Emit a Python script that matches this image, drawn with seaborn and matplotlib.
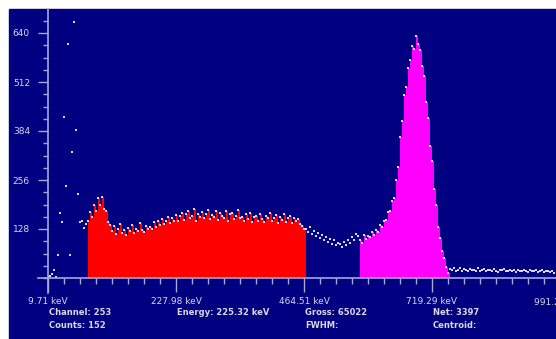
import numpy as np
import pandas as pd
import seaborn as sns
import matplotlib.pyplot as plt
from matplotlib.patches import Rectangle

# spectrum counts, one value every 4 channels
counts_low = [3, 5, 10, 20, 3, 60, 170, 145, 420, 240,
              610, 60, 330, 668, 386, 220, 145, 150, 130, 140]
counts_roi1 = [150, 172, 160, 190, 175, 208, 192,
               212, 180, 176, 145, 138,
               122, 135, 115, 128, 140, 118, 126, 112, 131, 124,
               138, 117, 129, 122, 143, 126, 119, 137, 128, 133,
               128, 146, 133, 150, 138, 155, 141, 149, 160, 143,
               158, 150, 165, 148, 161,
               170, 152, 166, 175, 158, 163, 180, 150, 168, 159,
               173, 156, 167, 178, 154, 165, 160, 176, 151, 169,
               162, 158, 174, 149, 166, 171, 155, 163, 177, 157,
               160, 148, 166, 155, 171, 146, 159, 163, 150, 168,
               153, 145, 162, 157, 170, 149, 158, 165, 144, 160,
               152, 167, 147, 156, 162, 143, 158, 150, 154, 141,
               135, 128]
counts_valley = [128, 120, 132, 115, 124, 110, 118, 105, 112, 100,
                 108, 95, 103, 90, 98, 85, 92, 88, 80, 95,
                 86, 100, 92, 108, 98, 115, 110]
counts_roi2 = [100, 92, 112, 101, 110, 108, 121, 112, 125, 120,
               138, 133, 150, 152, 172, 176, 200, 208, 255, 290,
               368, 410, 478, 498, 548, 570, 605, 598, 632, 612,
               596, 555, 528, 460, 418, 345, 305, 232, 190, 132,
               104, 70, 52, 28, 14]
counts_tail = [24, 20, 26, 18, 22, 25, 19, 23, 21, 17,
               24, 20, 22, 18, 25, 19, 21, 23, 17, 20,
               22, 18, 24, 19, 16, 21, 20, 23, 17, 19,
               22, 18, 20, 16, 21, 19, 17, 22, 18, 15,
               20, 17, 19, 21, 16, 18, 20, 15, 17, 19,
               16, 18, 14]

major_channels = [0, 256, 512, 768]
major_labels = ['9.71 keV', '227.98 keV', '464.51 keV', '719.29 keV']
cut_label = '991.23 keV'
y_ticks = [128, 256, 384, 512, 640]

info_row1 = ['Channel: 253', 'Energy: 225.32 keV', 'Gross: 65022', 'Net: 3397']
info_row2 = ['Counts: 152', '', 'FWHM:', 'Centroid:']

STEP = 4
NAVY = '#000080'
AXC = '#a8a8d8'
TXT = '#d8d8e8'

segments = [counts_low, counts_roi1, counts_valley, counts_roi2, counts_tail]
counts = np.concatenate([np.array(s, dtype=float) for s in segments])
channels = np.arange(len(counts)) * STEP
starts = np.cumsum([0] + [len(s) for s in segments])
spec = pd.DataFrame({'channel': channels, 'counts': counts})

fig = plt.figure(figsize=(5.56, 3.39), dpi=100, facecolor='white')
fig.patches.append(Rectangle((9 / 556, 0), 1, 330 / 339, transform=fig.transFigure,
                             color=NAVY, zorder=-10))
ax = fig.add_axes([48 / 556, 61 / 339, 508 / 556, 269 / 339])
ax.set_facecolor(NAVY)

for idx, col in [(1, '#ff0000'), (3, '#ff00ff')]:
    roi = spec.iloc[starts[idx]:starts[idx + 1]]
    lo = roi['channel'].iloc[0]
    hi = roi['channel'].iloc[-1] + STEP
    sns.histplot(data=roi, x='channel', weights='counts', binwidth=STEP,
                 binrange=(lo, hi), element='step', fill=True,
                 color=col, alpha=1, linewidth=0, ax=ax, zorder=2)

sns.scatterplot(data=spec, x='channel', y='counts', s=1.4, marker='s',
                color='#d8d8f0', linewidth=0, ax=ax, zorder=3)

ymax = 269 * 128 / 49
ax.set_xlim(0, 1016)
ax.set_ylim(0, ymax)
ax.set_xlabel('')
ax.set_ylabel('')
for sp in ax.spines.values():
    sp.set_visible(False)

# axis lines crossing at the origin
ax.plot([-20, 1016], [0, 0], color=AXC, lw=1.2, clip_on=False, zorder=4)
ax.plot([0, 0], [-39, ymax], color=AXC, lw=1.2, clip_on=False, zorder=4)

ax.set_xticks(major_channels)
ax.set_xticklabels(major_labels)
ax.set_xticks(np.arange(0, 1016, 32), minor=True)
ax.set_yticks(y_ticks)
ax.set_yticklabels([str(v) for v in y_ticks])
ax.set_yticks(np.arange(0, ymax, 32), minor=True)

ax.tick_params(axis='x', which='major', length=10, width=1, color=AXC,
               labelcolor=TXT, labelsize=6.5, pad=3.5)
ax.tick_params(axis='x', which='minor', length=4.3, width=1, color=AXC)
ax.tick_params(axis='y', which='major', length=7.5, width=1, color=AXC,
               labelcolor=TXT, labelsize=6.5, pad=5.5)
ax.tick_params(axis='y', which='minor', length=3.6, width=1, color=AXC)

# last energy label sits past the right edge, as in the original screen
ax.text(1024, -20 * 2.612, cut_label, ha='center', va='top',
        color=TXT, fontsize=6.5, clip_on=False)

for i, (a, b) in enumerate(zip(info_row1, info_row2)):
    xpos = major_channels[i] + 2
    ax.text(xpos, -35 * 2.612, a, ha='left', va='center', color=TXT,
            fontsize=6, fontweight='bold', clip_on=False)
    ax.text(xpos, -48 * 2.612, b, ha='left', va='center', color=TXT,
            fontsize=6, fontweight='bold', clip_on=False)

fig.savefig('out.png', dpi=100, facecolor=fig.get_facecolor())
